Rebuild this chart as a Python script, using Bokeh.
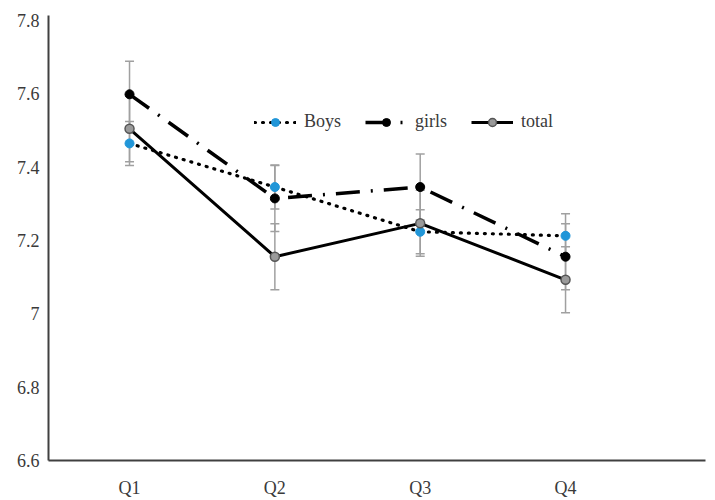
from bokeh.plotting import figure
from bokeh.models import (ColumnDataSource, Whisker, TeeHead, Range1d, FixedTicker,
                          Legend, LegendItem)
from bokeh.embed import file_html
from bokeh.resources import INLINE

quarters = ["Q1", "Q2", "Q3", "Q4"]
x_pos = [1, 2, 3, 4]
boys = [7.465, 7.346, 7.224, 7.213]
girls = [7.599, 7.315, 7.346, 7.156]
total = [7.505, 7.156, 7.247, 7.093]
boys_err = [0.06, 0.06, 0.06, 0.06]
girls_err = [0.09, 0.09, 0.09, 0.09]
total_err = [0.09, 0.09, 0.09, 0.09]
y_ticks = [6.6, 6.8, 7.0, 7.2, 7.4, 7.6, 7.8]
y_labels = ["6.6", "6.8", "7", "7.2", "7.4", "7.6", "7.8"]

FONT = "Liberation Serif"
TXT = "#3a3a3a"

p = figure(width=715, height=500, output_backend="svg", toolbar_location=None,
           x_range=Range1d(0.4425, 4.963), y_range=Range1d(6.6, 7.814),
           min_border_left=48, min_border_right=10, min_border_top=15, min_border_bottom=39)
p.grid.visible = False
p.outline_line_color = None

for ax in (p.xaxis[0], p.yaxis[0]):
    ax.axis_line_color = "#404040"
    ax.axis_line_width = 2
    ax.major_tick_line_color = None
    ax.minor_tick_line_color = None
    ax.major_tick_out = 0
    ax.major_tick_in = 0
    ax.major_label_text_font = FONT
    ax.major_label_text_font_size = "18px"
    ax.major_label_text_color = TXT

p.xaxis.ticker = FixedTicker(ticks=x_pos)
p.xaxis.major_label_overrides = {x: q for x, q in zip(x_pos, quarters)}
p.xaxis.major_label_standoff = 17
p.yaxis.ticker = FixedTicker(ticks=y_ticks)
p.yaxis.major_label_overrides = {t: l for t, l in zip(y_ticks, y_labels)}
p.yaxis.major_label_standoff = 9

series = [
    (boys, boys_err), (girls, girls_err), (total, total_err),
]
for vals, err in series:
    src = ColumnDataSource(dict(x=x_pos,
                                lo=[v - e for v, e in zip(vals, err)],
                                hi=[v + e for v, e in zip(vals, err)]))
    w = Whisker(base="x", lower="lo", upper="hi", source=src, dimension="height",
                line_color="#a0a0a0", line_width=1.5,
                upper_head=TeeHead(size=9, line_color="#a0a0a0", line_width=1.5),
                lower_head=TeeHead(size=9, line_color="#a0a0a0", line_width=1.5))
    p.add_layout(w)

src = ColumnDataSource(dict(x=x_pos, boys=boys, girls=girls, total=total))

lb = p.line("x", "boys", source=src, line_color="black", line_width=3.2,
            line_dash="1 7", line_cap="round")
lg = p.line("x", "girls", source=src, line_color="black", line_width=3.5,
            line_dash="24 11 2 11")
lt = p.line("x", "total", source=src, line_color="black", line_width=3)

sb = p.scatter("x", "boys", source=src, size=9, fill_color="#2196d8", line_color="#2196d8")
sg = p.scatter("x", "girls", source=src, size=9, fill_color="black", line_color="black")
st = p.scatter("x", "total", source=src, size=9, fill_color="#9a9a9a", line_color="#555555",
               line_width=1.5)

legend = Legend(items=[
    LegendItem(label="Boys", renderers=[lb, sb]),
    LegendItem(label="girls", renderers=[lg, sg]),
    LegendItem(label="total", renderers=[lt, st]),
], orientation="horizontal", location=(206, 328))
legend.background_fill_alpha = 0
legend.border_line_color = None
legend.padding = 0
legend.margin = 0
legend.spacing = 24
legend.glyph_width = 42
legend.label_standoff = 8
legend.label_text_font = FONT
legend.label_text_font_size = "18px"
legend.label_text_color = TXT
p.add_layout(legend, "center")

open("out.html", "w").write(file_html(p, INLINE))
